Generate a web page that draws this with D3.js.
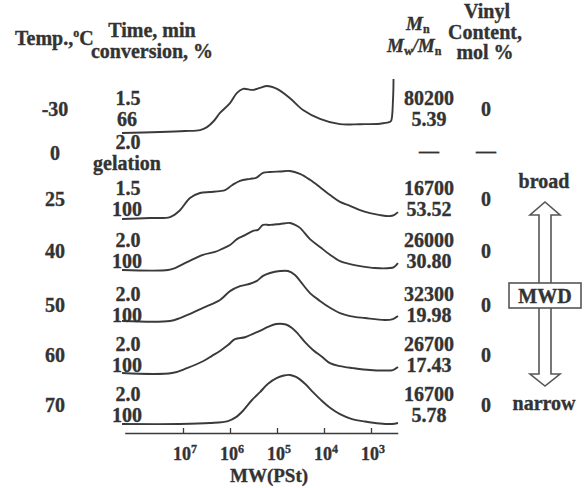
<!DOCTYPE html>
<html><head><meta charset="utf-8">
<script src="https://cdn.jsdelivr.net/npm/d3@7"></script>
<style>
html,body{margin:0;padding:0;background:#fff;}
svg{display:block;}
text{font-family:"Liberation Serif","Times New Roman",serif;font-weight:bold;fill:#333;stroke:#333;stroke-width:0.35px;}
</style></head>
<body>
<svg id="chart" width="585" height="488"></svg>
<script>
// ---------------- data ----------------
const temps = ["-30", "0", "25", "40", "50", "60", "70"];
const times = ["1.5", "2.0", "1.5", "2.0", "2.0", "2.0", "2.0"];
const conversions = ["66", "gelation", "100", "100", "100", "100", "100"];
const mnValues = ["80200", null, "16700", "26000", "32300", "26700", "16700"];
const pdiValues = ["5.39", null, "53.52", "30.80", "19.98", "17.43", "5.78"];
const vinylValues = ["0", null, "0", "0", "0", "0", "0"];
const tickExponents = [7, 6, 5, 4, 3];

// GPC traces: [log10 MW, normalised RI intensity]
const curveM30 = [[8.298,0],[7.489,0.02],[6.957,0.04],[6.638,0.06],[6.489,0.12],[6.340,0.25],[6.213,0.41],[6.000,0.61],[5.851,0.82],[5.723,0.90],[5.511,0.88],[5.362,0.92],[5.213,0.96],[5.000,0.90],[4.723,0.71],[4.447,0.47],[4.085,0.29],[3.660,0.18],[3.234,0.18],[2.809,0.19],[2.617,0.22],[2.574,0.245],[2.532,0.67],[2.521,1.10]];
const curve25 = [[8.298,0],[7.702,0.02],[7.277,0.04],[7.064,0.18],[6.851,0.43],[6.638,0.53],[6.426,0.55],[6.213,0.57],[6.106,0.59],[5.957,0.69],[5.787,0.78],[5.574,0.82],[5.447,0.84],[5.298,0.94],[5.149,0.96],[4.936,0.97],[4.723,0.98],[4.511,0.92],[4.298,0.80],[4.085,0.65],[3.872,0.49],[3.660,0.35],[3.447,0.27],[3.234,0.18],[3.021,0.12],[2.809,0.08],[2.596,0.06],[2.511,0.08],[2.426,0.14]];
const curve40 = [[8.298,0],[7.319,0],[7.170,0.04],[6.915,0.16],[6.574,0.31],[6.319,0.37],[6.170,0.43],[6.000,0.51],[5.851,0.63],[5.681,0.71],[5.511,0.80],[5.404,0.82],[5.298,0.92],[5.149,0.92],[4.936,0.94],[4.723,0.96],[4.617,0.92],[4.511,0.86],[4.298,0.63],[4.085,0.47],[3.872,0.31],[3.660,0.18],[3.447,0.12],[3.234,0.08],[2.915,0.04],[2.596,0.04],[2.511,0.06],[2.426,0.14]];
const curve50 = [[8.298,0],[7.277,0],[7.064,0.06],[6.915,0.12],[6.574,0.27],[6.213,0.43],[6.000,0.61],[5.787,0.71],[5.574,0.76],[5.426,0.82],[5.298,0.92],[5.149,0.98],[4.936,1.02],[4.766,1.02],[4.617,0.94],[4.511,0.82],[4.298,0.57],[4.085,0.41],[3.872,0.27],[3.660,0.16],[3.447,0.10],[3.128,0.06],[2.702,0.02],[2.532,0.04],[2.426,0.10]];
const curve60 = [[8.298,0],[7.234,0],[6.915,0.10],[6.574,0.24],[6.383,0.35],[6.213,0.45],[6.043,0.57],[5.894,0.69],[5.681,0.73],[5.511,0.80],[5.362,0.86],[5.191,0.94],[5.021,1.00],[4.809,0.99],[4.681,0.92],[4.553,0.80],[4.404,0.63],[4.234,0.47],[4.043,0.33],[3.872,0.20],[3.660,0.14],[3.383,0.10],[3.021,0.06],[2.702,0.05],[2.532,0.06],[2.426,0.12]];
const curve70 = [[8.298,0],[7.064,0],[6.426,0.02],[6.043,0.06],[5.872,0.14],[5.723,0.27],[5.532,0.49],[5.362,0.65],[5.191,0.82],[5.000,0.94],[4.851,0.99],[4.723,1.00],[4.596,0.96],[4.404,0.82],[4.234,0.65],[4.043,0.47],[3.872,0.33],[3.660,0.20],[3.404,0.10],[3.128,0.05],[2.809,0.01],[2.553,0],[2.426,0.02]];
const curveSeries = [
  {temp: "-30", pts: curveM30},
  {temp: "25", pts: curve25},
  {temp: "40", pts: curve40},
  {temp: "50", pts: curve50},
  {temp: "60", pts: curve60},
  {temp: "70", pts: curve70}
];

// ---------------- layout ----------------
const svg = d3.select("#chart");
const x = d3.scaleLinear().domain([7, 3]).range([183, 371]);          // log10 MW, reversed
const rowBase = d3.scaleOrdinal().domain(temps).range([133, 176, 219, 270, 321, 373, 424]);
const textBase = d3.scaleOrdinal().domain(temps).range([126, 170, 216, 268, 322, 372, 422]);
const yI = d3.scaleLinear().domain([0, 1]).range([0, 49]);
const axisY = 433;

// curves
const g = svg.append("g");
curveSeries.forEach(s => {
  const line = d3.line()
    .x(d => x(d[0]))
    .y(d => rowBase(s.temp) - yI(d[1]))
    .curve(d3.curveCatmullRom.alpha(0.5));
  g.append("path").datum(s.pts).attr("d", line)
    .attr("fill", "none").attr("stroke", "#3a3a3a").attr("stroke-width", 1.9)
    .attr("stroke-linejoin", "round");
});

// axis
const axisScale = x.copy().domain([8.24, 2.43]).range([x(8.24), x(2.43)]);
const axis = d3.axisBottom(axisScale).tickValues(tickExponents).tickSize(-5).tickSizeOuter(0).tickFormat("");
const ag = svg.append("g").attr("transform", `translate(0,${axisY})`).call(axis);
ag.select(".domain").attr("stroke", "#3a3a3a").attr("stroke-width", 1.7);
ag.selectAll(".tick line").attr("stroke", "#3a3a3a").attr("stroke-width", 1.3);
tickExponents.forEach(e => {
  const t = svg.append("text").attr("x", x(e) + 2).attr("y", 460)
    .attr("text-anchor", "middle").style("font-size", "18px");
  t.append("tspan").text("10");
  t.append("tspan").text(e).attr("dy", -7).style("font-size", "12px");
});
svg.append("text").attr("x", 269).attr("y", 482).attr("text-anchor", "middle")
  .style("font-size", "19px").text("MW(PSt)");

// headers
const h1 = svg.append("text").attr("x", 15).attr("y", 45).style("font-size", "20px");
h1.append("tspan").text("Temp.,");
h1.append("tspan").text("o").attr("dy", -8).style("font-size", "12px");
h1.append("tspan").text("C").attr("dy", 8);
svg.append("text").attr("x", 152).attr("y", 37).attr("text-anchor", "middle").style("font-size", "20px").text("Time, min");
svg.append("text").attr("x", 152).attr("y", 58).attr("text-anchor", "middle").style("font-size", "20px").text("conversion, %");

const h3 = svg.append("text").attr("x", 406).attr("y", 30).style("font-size", "19px");
h3.append("tspan").text("M").style("font-style", "italic");
h3.append("tspan").text("n").attr("dy", 3).style("font-size", "12px");
const h4 = svg.append("text").attr("x", 387).attr("y", 52).style("font-size", "19px");
h4.append("tspan").text("M").style("font-style", "italic");
h4.append("tspan").text("w").attr("dy", 3).style("font-size", "12px");
h4.append("tspan").text("/").attr("dy", -3).style("font-style", "italic");
h4.append("tspan").text("M").style("font-style", "italic");
h4.append("tspan").text("n").attr("dy", 3).style("font-size", "12px");

svg.append("text").attr("x", 487).attr("y", 18).attr("text-anchor", "middle").style("font-size", "20px").text("Vinyl");
svg.append("text").attr("x", 485).attr("y", 39).attr("text-anchor", "middle").style("font-size", "20px").text("Content,");
svg.append("text").attr("x", 485).attr("y", 59).attr("text-anchor", "middle").style("font-size", "20px").text("mol %");

// row texts
temps.forEach((t, i) => {
  const tb = textBase(t);
  const fs = "20px";
  svg.append("text").attr("x", 55).attr("y", tb - 10).attr("text-anchor", "middle").style("font-size", fs).text(t);
  svg.append("text").attr("x", 128).attr("y", tb - 21).attr("text-anchor", "middle").style("font-size", fs).text(times[i]);
  svg.append("text").attr("x", 127).attr("y", tb).attr("text-anchor", "middle").style("font-size", fs).text(conversions[i]);
  if (mnValues[i] !== null) {
    svg.append("text").attr("x", 429).attr("y", tb - 21).attr("text-anchor", "middle").style("font-size", fs).text(mnValues[i]);
    svg.append("text").attr("x", 429).attr("y", tb).attr("text-anchor", "middle").style("font-size", fs).text(pdiValues[i]);
  } else {
    svg.append("text").attr("x", 429).attr("y", tb - 12).attr("text-anchor", "middle").style("font-size", fs).text("—");
  }
  svg.append("text").attr("x", 486).attr("text-anchor", "middle").style("font-size", fs)
    .attr("y", vinylValues[i] !== null ? tb - 10 : tb - 12)
    .text(vinylValues[i] !== null ? vinylValues[i] : "—");
});

// MWD double arrow
const ax = 545, sw = 6, hw = 15;
const arrowStroke = "#555";
const up = [[ax - sw, 283], [ax - sw, 215], [ax - hw, 215], [ax, 202], [ax + hw, 215], [ax + sw, 215], [ax + sw, 283]];
const down = [[ax - sw, 308], [ax - sw, 374], [ax - hw, 374], [ax, 386], [ax + hw, 374], [ax + sw, 374], [ax + sw, 308]];
[up, down].forEach(p => svg.append("path").attr("d", d3.line()(p)).attr("fill", "none")
  .attr("stroke", arrowStroke).attr("stroke-width", 1.6).attr("stroke-linejoin", "miter"));
svg.append("rect").attr("x", 509).attr("y", 283).attr("width", 72).attr("height", 25)
  .attr("fill", "#fff").attr("stroke", arrowStroke).attr("stroke-width", 1.6);
svg.append("text").attr("x", 545).attr("y", 303).attr("text-anchor", "middle").style("font-size", "20px").text("MWD");
svg.append("text").attr("x", 544).attr("y", 188).attr("text-anchor", "middle").style("font-size", "20px").text("broad");
svg.append("text").attr("x", 544).attr("y", 410).attr("text-anchor", "middle").style("font-size", "20px").text("narrow");
</script>
</body></html>
